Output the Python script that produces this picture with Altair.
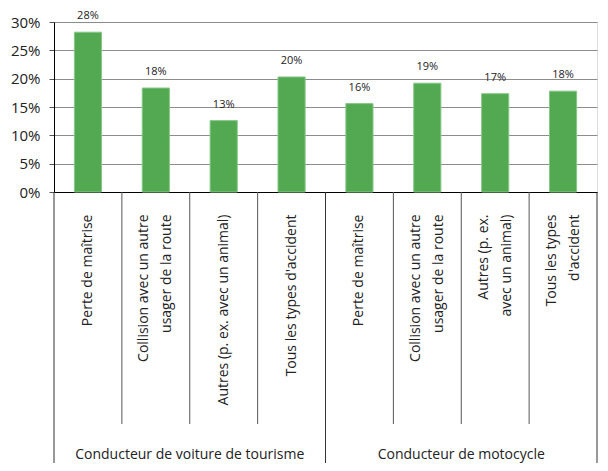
import json
import altair as alt
import pandas as pd

# ---- data ----
keys = ["A1", "A2", "A3", "A4", "B1", "B2", "B3", "B4"]
groups = ["Conducteur de voiture de tourisme"] * 4 + ["Conducteur de motocycle"] * 4
cat_labels = [
    "Perte de maîtrise",
    "Collision avec un autre\nusager de la route",
    "Autres (p. ex. avec un animal)",
    "Tous les types d'accident",
    "Perte de maîtrise",
    "Collision avec un autre\nusager de la route",
    "Autres (p. ex.\navec un animal)",
    "Tous les types\nd'accident",
]
values = [0.282, 0.1835, 0.126, 0.203, 0.156, 0.192, 0.1735, 0.178]
y_ticks = [0, 0.05, 0.10, 0.15, 0.20, 0.25, 0.30]

group_names = ["Conducteur de voiture de tourisme", "Conducteur de motocycle"]
group_center_keys = ["A3", "B3"]          # label centred on left edge of these bands
inner_sep_keys = ["A2", "A3", "A4", "B2", "B3", "B4"]
group_sep_start_keys = ["A1", "B1"]
group_sep_end_keys = ["B4"]

df = pd.DataFrame({"key": keys, "group": groups, "value": values})
df_inner = pd.DataFrame({"key": inner_sep_keys})
df_gstart = pd.DataFrame({"key": group_sep_start_keys})
df_gend = pd.DataFrame({"key": group_sep_end_keys})
df_glabel = pd.DataFrame({"key": group_center_keys, "name": group_names})

FONT = "Open Sans"
TXT = "#222222"
W, H = 543, 170
LH = 23

label_map = json.dumps(dict(zip(keys, cat_labels)))
label_expr = "split(" + label_map + "[datum.value], '\\n')"
two_line = json.dumps([k for k, l in zip(keys, cat_labels) if "\n" in l])

xscale = alt.Scale(domain=keys, paddingInner=0, paddingOuter=0)
yscale = alt.Scale(domain=[0, 0.30], nice=False)

x_axis = alt.Axis(
    labelExpr=label_expr,
    labelAngle=270,
    labelAlign="right",
    labelBaseline="middle",
    labelOffset={
        "condition": {"test": "indexof(" + two_line + ", datum.value) >= 0",
                      "value": -LH / 2},
        "value": 0,
    },
    labelPadding=22,
    labelFont=FONT,
    labelFontSize=14,
    labelColor=TXT,
    labelLineHeight=LH,
    labelLimit=300,
    labelOverlap=False,
    ticks=False,
    domainColor="#000000",
    domainWidth=1,
    grid=False,
)

y_axis = alt.Axis(
    format=".0%",
    values=y_ticks,
    labelFont=FONT,
    labelFontSize=15,
    labelColor=TXT,
    labelPadding=9,
    labelOverlap=False,
    tickSize=5,
    tickColor="#555555",
    domainColor="#000000",
    grid=True,
    gridColor="#8c8c8c",
    gridWidth=1,
)

def X(**kw):
    return alt.X("key:N", scale=xscale, sort=keys, title=None, axis=x_axis, **kw)

def Y():
    return alt.Y("value:Q", scale=yscale, title=None, axis=y_axis)

base = alt.Chart(df)

bars = base.mark_bar(
    width=alt.RelativeBandSize(0.4), color="#53a852", stroke="#86c886", strokeWidth=1
).encode(x=X(), y=Y())

texts = base.mark_text(
    dy=-16, font=FONT, fontSize=11, color=TXT, baseline="middle"
).encode(
    x=X(),
    y=Y(),
    text=alt.Text("value:Q", format=".0%"),
)

inner = alt.Chart(df_inner).mark_rule(color="#555555", strokeWidth=1).encode(
    x=X(bandPosition=0),
    y=alt.value(H),
    y2=alt.value(H + 232),
)

gstart = alt.Chart(df_gstart).mark_rule(color="#333333", strokeWidth=1).encode(
    x=X(bandPosition=0),
    y=alt.value(H),
    y2=alt.value(H + 290),
)

gend = alt.Chart(df_gend).mark_rule(color="#333333", strokeWidth=1).encode(
    x=X(bandPosition=1),
    y=alt.value(H),
    y2=alt.value(H + 290),
)

glabels = alt.Chart(df_glabel).mark_text(
    font=FONT, fontSize=14, color=TXT, baseline="middle", align="center"
).encode(
    x=X(bandPosition=0),
    y=alt.value(H + 263),
    text="name:N",
)

chart = (
    alt.layer(bars, texts, inner, gstart, gend, glabels)
    .properties(
        width=W,
        height=H,
        autosize=alt.AutoSizeParams(type="none"),
        padding={"left": 46, "top": 14, "right": 3, "bottom": 271},
    )
    .configure_view(stroke=None)
    .configure(background="white")
)

chart.save("out.html", embed_options={"renderer": "svg", "actions": False})
